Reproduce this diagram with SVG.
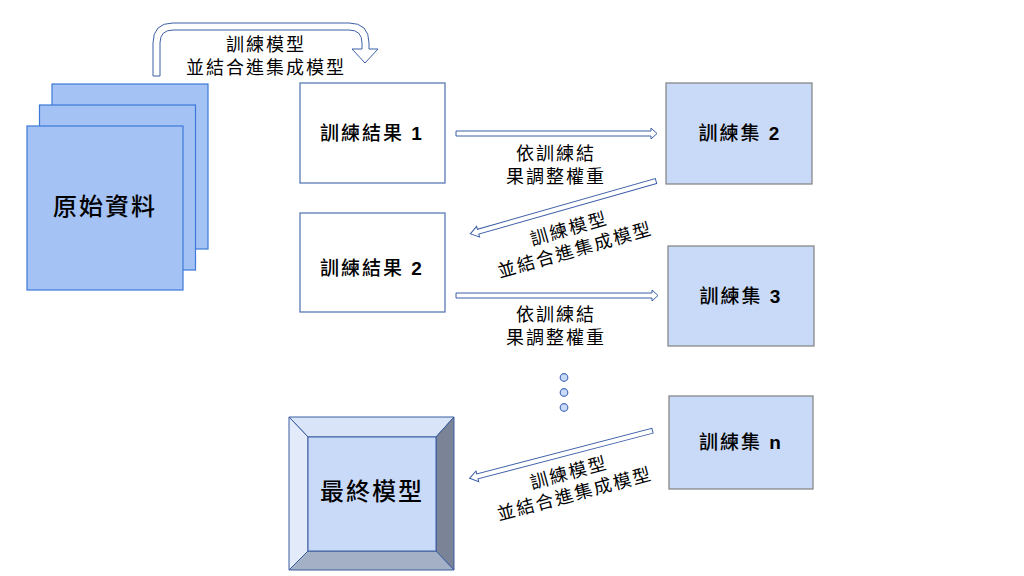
<svg xmlns="http://www.w3.org/2000/svg" width="1024" height="576" viewBox="0 0 1024 576">
<style>
text{font-family:"Liberation Sans","Noto Sans CJK TC",sans-serif;fill:#000;letter-spacing:2px}
.lbl{font-size:18px;text-anchor:middle}
.node{font-size:19px;text-anchor:middle;font-weight:500}
.big{font-size:24px;text-anchor:middle;font-weight:500}
.num{font-weight:bold}
.doc{fill:#a4c2f4;stroke:#3d78d8;stroke-width:1.2}
.res{fill:#fff;stroke:#4a6fb0;stroke-width:1.2}
.set{fill:#c9daf8;stroke:#808080;stroke-width:1.2}
.arr{fill:#fff;stroke:#3d5fa8;stroke-width:1}
.bev{stroke:#3b5da0;stroke-width:1}
.dot{fill:#c9daf8;stroke:#4a6fb5;stroke-width:1.2}
</style>
<rect width="1024" height="576" fill="#fff"/>
<g id="raw-data">
<rect class="doc" x="52" y="84" width="156" height="165"/>
<rect class="doc" x="39.5" y="105" width="156" height="165"/>
<rect class="doc" x="27" y="126" width="156" height="164"/>
<text class="big" x="105" y="215">原始資料</text>
</g>
<g id="result1">
<rect class="res" x="300" y="83" width="145" height="100"/>
<text class="node" x="372" y="140">訓練結果 <tspan class="num">1</tspan></text>
</g>
<g id="result2">
<rect class="res" x="300" y="213" width="145" height="99"/>
<text class="node" x="372" y="275">訓練結果 <tspan class="num">2</tspan></text>
</g>
<g id="set2">
<rect class="set" x="666" y="83" width="146" height="101"/>
<text class="node" x="740" y="140">訓練集 <tspan class="num">2</tspan></text>
</g>
<g id="set3">
<rect class="set" x="668" y="246" width="146" height="100"/>
<text class="node" x="741" y="303">訓練集 <tspan class="num">3</tspan></text>
</g>
<g id="setn">
<rect class="set" x="669" y="396" width="144" height="93"/>
<text class="node" x="741" y="449">訓練集 <tspan class="num">n</tspan></text>
</g>
<g id="final-model">
<rect x="289" y="417" width="165" height="153" fill="#c9daf8"/>
<polygon class="bev" points="289,417 454,417 436,437 308,437" fill="#d9e4f9"/>
<polygon class="bev" points="289,417 308,437 308,551 289,570" fill="#e3ebfb"/>
<polygon class="bev" points="454,417 454,570 436,551 436,437" fill="#7b8496"/>
<polygon class="bev" points="289,570 308,551 436,551 454,570" fill="#a4b0c6"/>
<rect class="bev" x="308" y="437" width="128" height="114" fill="#c9daf8"/>
<text class="big" x="372" y="500">最終模型</text>
</g>
<g id="ellipsis">
<circle class="dot" cx="564" cy="377.5" r="3.8"/>
<circle class="dot" cx="564" cy="392.5" r="3.8"/>
<circle class="dot" cx="564" cy="407.5" r="3.8"/>
</g>
<g id="connectors">
<path class="arr" d="M153,76 L153,43 Q153,23 173,23 L349,23 Q369,23 369,43 L369,49 L378,49 L365,63 L352,49 L362,49 L362,43 Q362,30 349,30 L173,30 Q160,30 160,43 L160,76 Z"/>
<path class="arr" transform="translate(456,133.5)" d="M0,-2.5 L195,-2.5 L195,-5.5 L201,0 L195,5.5 L195,2.5 L0,2.5 Z"/>
<path class="arr" transform="translate(456,295.5)" d="M0,-2.5 L196,-2.5 L196,-5.5 L202,0 L196,5.5 L196,2.5 L0,2.5 Z"/>
<path class="arr" transform="translate(656,181) rotate(164.1)" d="M0,-2.5 L185,-2.5 L185,-5.5 L193,0 L185,5.5 L185,2.5 L0,2.5 Z"/>
<path class="arr" transform="translate(652.5,430.7) rotate(165.4)" d="M0,-2.5 L181,-2.5 L181,-5.5 L189,0 L181,5.5 L181,2.5 L0,2.5 Z"/>
</g>
<g id="labels">
<text class="lbl" x="266" y="51">訓練模型</text>
<text class="lbl" x="266" y="74">並結合進集成模型</text>
<text class="lbl" x="556" y="160">依訓練結</text>
<text class="lbl" x="556" y="183">果調整權重</text>
<text class="lbl" x="556" y="321">依訓練結</text>
<text class="lbl" x="556" y="344">果調整權重</text>
<g transform="translate(569,229) rotate(-16)">
<text class="lbl" x="0" y="6">訓練模型</text>
<text class="lbl" x="0" y="28">並結合進集成模型</text>
</g>
<g transform="translate(569,473) rotate(-15)">
<text class="lbl" x="0" y="6">訓練模型</text>
<text class="lbl" x="0" y="28">並結合進集成模型</text>
</g>
</g>
</svg>
